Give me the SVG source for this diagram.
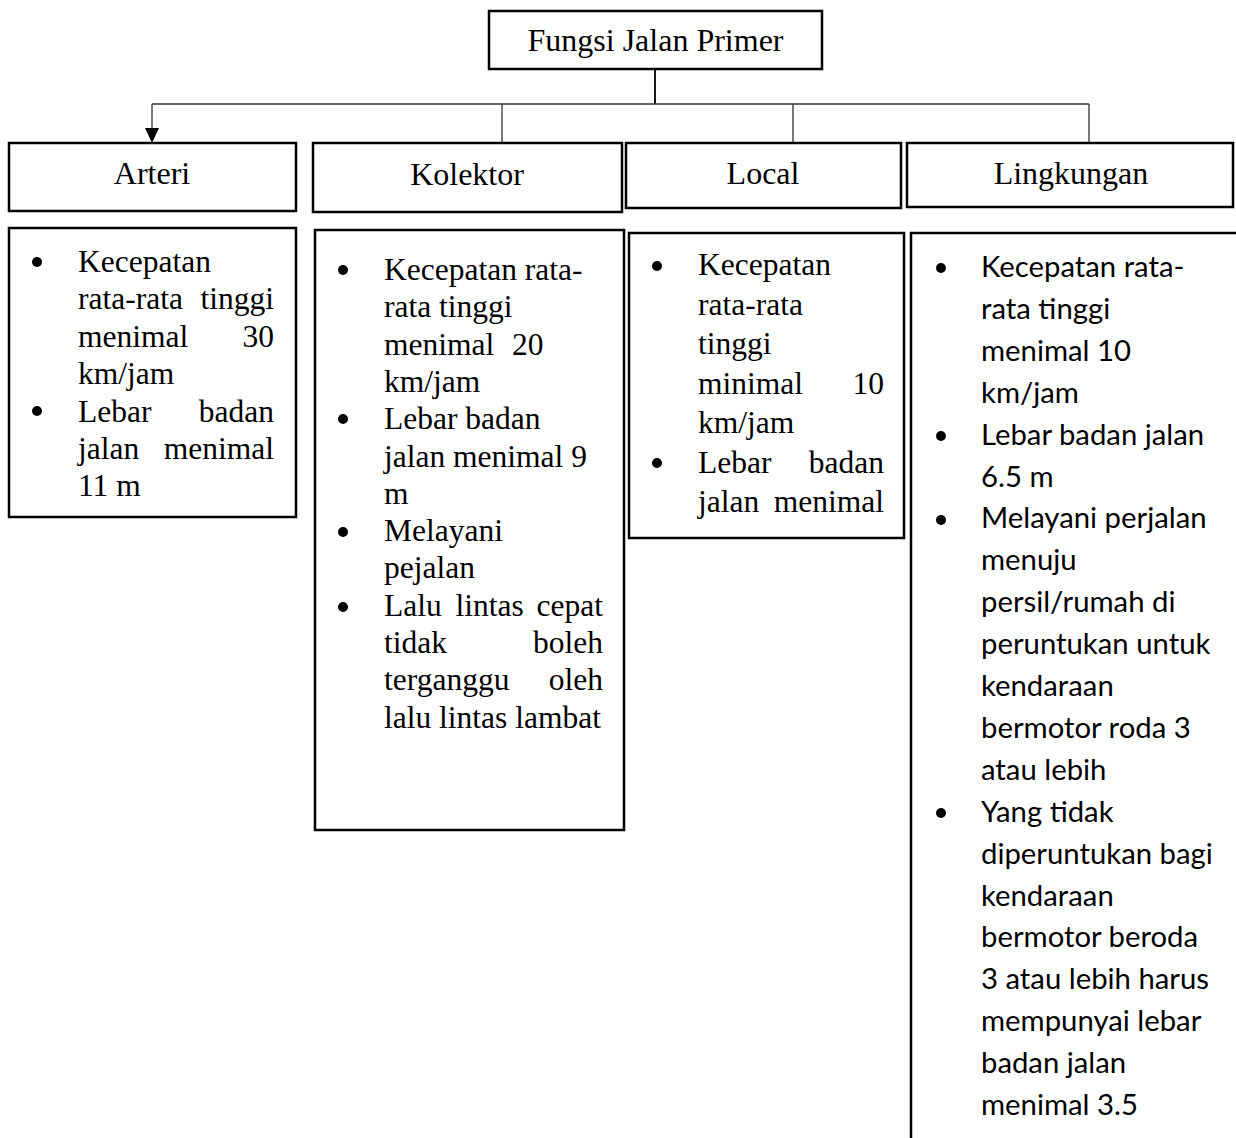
<svg xmlns="http://www.w3.org/2000/svg" width="1236" height="1138" viewBox="0 0 1236 1138">
<style>
.box{fill:#fff;stroke:#000;stroke-width:2.5}
.open{fill:none;stroke:#000;stroke-width:2.5}
.con{fill:none;stroke:#333;stroke-width:1.3}
.h{font-family:"Liberation Serif","Times New Roman",serif;font-size:32px;fill:#000;text-anchor:middle}
.s{font-family:"Liberation Serif","Times New Roman",serif;font-size:31.5px;fill:#000}
.e{text-anchor:end}
.c{font-family:Lato,"Noto Sans",sans-serif;font-size:29.3px;fill:#000}
.b{fill:#000}
</style>
<rect width="1236" height="1138" fill="#fff"/>

<g id="connectors">
<path class="con" d="M655,69 V104" style="stroke:#000;stroke-width:1.8"/>
<path class="con" d="M152,104 H1089"/>
<path class="con" d="M502,104 V143"/>
<path class="con" d="M793,104 V143"/>
<path class="con" d="M1089,104 V143"/>
<path d="M152,104 V128" class="con"/>
<polygon points="145,128 159,128 152,143" fill="#000"/>
</g>

<g id="root">
<rect class="box" x="489" y="11" width="333" height="58"/>
<text class="h" x="655.5" y="51">Fungsi Jalan Primer</text>
</g>

<g id="arteri">
<rect class="box" x="9" y="143" width="287" height="68"/>
<text class="h" x="152" y="184">Arteri</text>
</g>
<g id="kolektor">
<rect class="box" x="313" y="143" width="309" height="69"/>
<text class="h" x="467" y="185">Kolektor</text>
</g>
<g id="local">
<rect class="box" x="626" y="143" width="275" height="65"/>
<text class="h" x="763" y="184">Local</text>
</g>
<g id="lingkungan">
<rect class="box" x="907" y="143" width="326" height="64"/>
<text class="h" x="1071" y="184">Lingkungan</text>
</g>

<g id="arteri-detail">
<rect class="box" x="9" y="228" width="287" height="289"/>
<circle class="b" cx="37" cy="262" r="5"/>
<circle class="b" cx="37" cy="411" r="5"/>
<text class="s" x="78" y="272">Kecepatan</text>
<text class="s" x="78" y="309.4">rata-rata</text><text class="s e" x="274" y="309.4">tinggi</text>
<text class="s" x="78" y="346.8">menimal</text><text class="s e" x="274" y="346.8">30</text>
<text class="s" x="78" y="384.2">km/jam</text>
<text class="s" x="78" y="421.6">Lebar</text><text class="s e" x="274" y="421.6">badan</text>
<text class="s" x="78" y="459">jalan</text><text class="s e" x="274" y="459">menimal</text>
<text class="s" x="78" y="496.4">11 m</text>
</g>

<g id="kolektor-detail">
<rect class="box" x="315" y="230" width="309" height="600"/>
<circle class="b" cx="343" cy="270" r="5"/>
<circle class="b" cx="343" cy="419" r="5"/>
<circle class="b" cx="343" cy="532" r="5"/>
<circle class="b" cx="343" cy="607" r="5"/>
<text class="s" x="384" y="280">Kecepatan rata-</text>
<text class="s" x="384" y="317.3">rata tinggi</text>
<text class="s" x="384" y="354.6">menimal</text><text class="s" x="512" y="354.6">20</text>
<text class="s" x="384" y="391.9">km/jam</text>
<text class="s" x="384" y="429.2">Lebar badan</text>
<text class="s" x="384" y="466.5">jalan menimal 9</text>
<text class="s" x="384" y="503.8">m</text>
<text class="s" x="384" y="541.1">Melayani</text>
<text class="s" x="384" y="578.4">pejalan</text>
<text class="s" x="384" y="615.7" word-spacing="6">Lalu lintas</text><text class="s e" x="603" y="615.7">cepat</text>
<text class="s" x="384" y="653">tidak</text><text class="s e" x="603" y="653">boleh</text>
<text class="s" x="384" y="690.3">terganggu</text><text class="s e" x="603" y="690.3">oleh</text>
<text class="s" x="384" y="727.6">lalu lintas lambat</text>
</g>

<g id="local-detail">
<rect class="box" x="629" y="233" width="275" height="305"/>
<circle class="b" cx="657" cy="266" r="5"/>
<circle class="b" cx="657" cy="463" r="5"/>
<text class="s" x="698" y="275">Kecepatan</text>
<text class="s" x="698" y="314.5">rata-rata</text>
<text class="s" x="698" y="354">tinggi</text>
<text class="s" x="698" y="393.5">minimal</text><text class="s e" x="884" y="393.5">10</text>
<text class="s" x="698" y="433">km/jam</text>
<text class="s" x="698" y="472.5">Lebar</text><text class="s e" x="884" y="472.5">badan</text>
<text class="s" x="698" y="512">jalan</text><text class="s e" x="884" y="512">menimal</text>
</g>

<g id="lingkungan-detail">
<path class="open" d="M911,1138 V233 H1236"/>
<circle class="b" cx="941" cy="268" r="5"/>
<circle class="b" cx="941" cy="436" r="5"/>
<circle class="b" cx="941" cy="520" r="5"/>
<circle class="b" cx="941" cy="813" r="5"/>
<text class="c" x="981" y="277">Kecepatan rata-</text>
<text class="c" x="981" y="318.9">rata tinggi</text>
<text class="c" x="981" y="360.8">menimal 10</text>
<text class="c" x="981" y="402.7">km/jam</text>
<text class="c" x="981" y="444.6">Lebar badan jalan</text>
<text class="c" x="981" y="486.5">6.5 m</text>
<text class="c" x="981" y="528.4">Melayani perjalan</text>
<text class="c" x="981" y="570.3">menuju</text>
<text class="c" x="981" y="612.2">persil/rumah di</text>
<text class="c" x="981" y="654.1">peruntukan untuk</text>
<text class="c" x="981" y="696">kendaraan</text>
<text class="c" x="981" y="737.9">bermotor roda 3</text>
<text class="c" x="981" y="779.8">atau lebih</text>
<text class="c" x="981" y="821.7">Yang tidak</text>
<text class="c" x="981" y="863.6">diperuntukan bagi</text>
<text class="c" x="981" y="905.5">kendaraan</text>
<text class="c" x="981" y="947.4">bermotor beroda</text>
<text class="c" x="981" y="989.3">3 atau lebih harus</text>
<text class="c" x="981" y="1031.2">mempunyai lebar</text>
<text class="c" x="981" y="1073.1">badan jalan</text>
<text class="c" x="981" y="1115">menimal 3.5</text>
</g>
</svg>
